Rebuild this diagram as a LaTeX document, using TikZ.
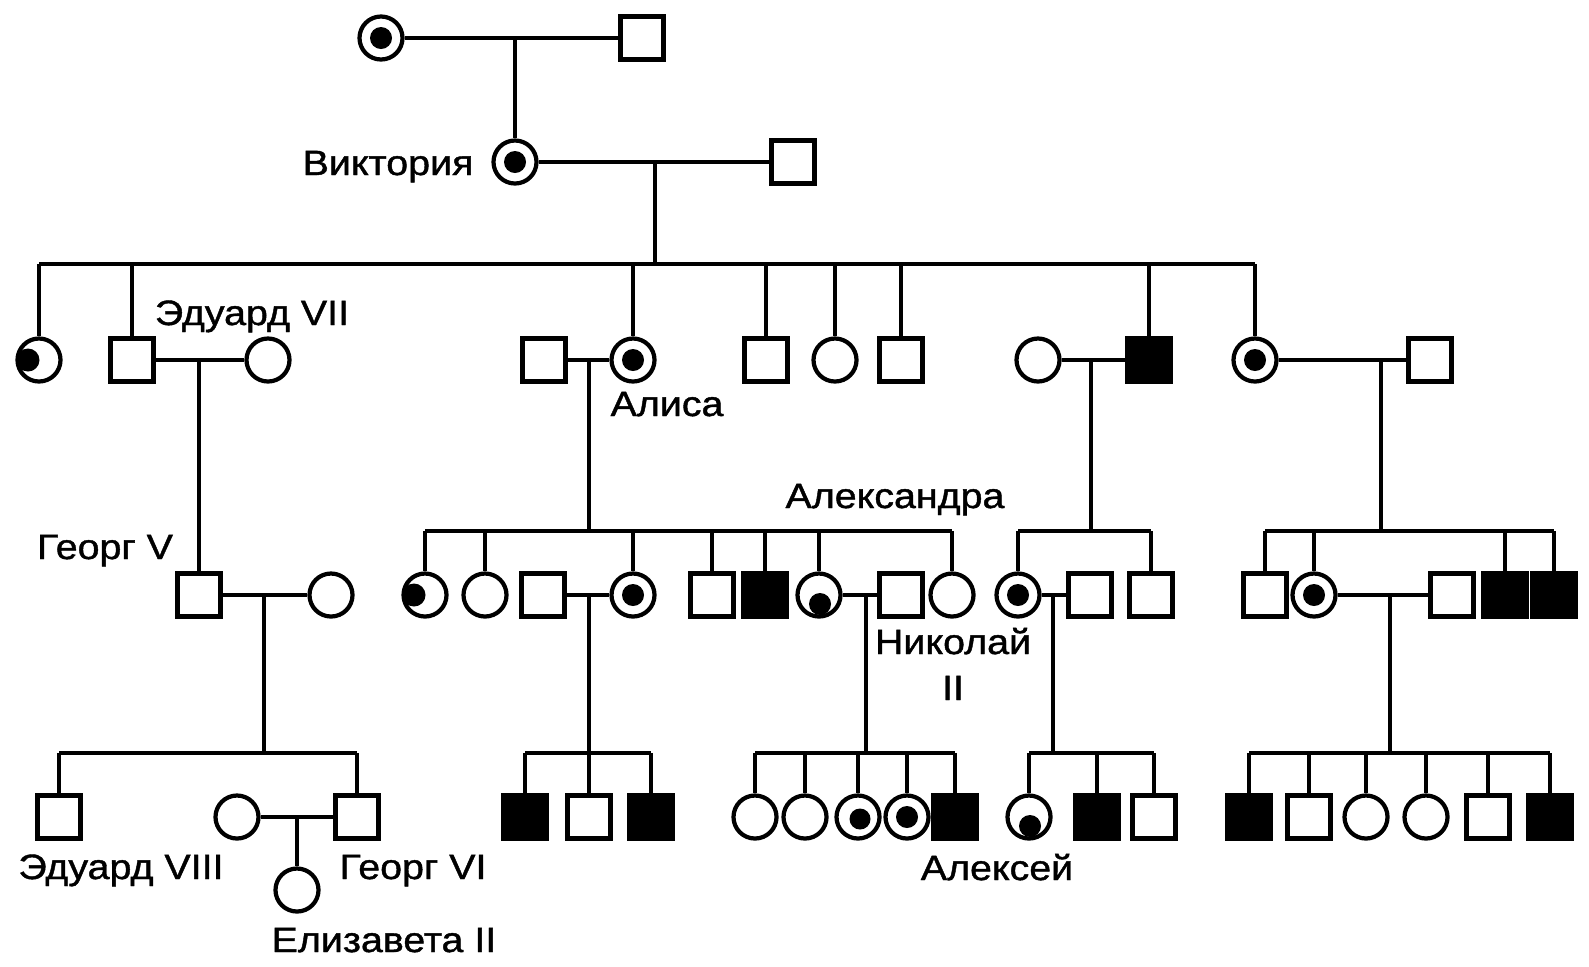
\documentclass[tikz,border=0pt]{standalone}
\usepackage{fontspec}
\setmainfont{Liberation Sans}[FakeStretch=1.12,FakeBold=1.2]
\begin{document}
\begin{tikzpicture}[x=0.01cm,y=-0.01cm,
  sym/.style={draw,line width=1.2pt,inner sep=0pt,minimum size=0.43cm,fill=white},
  mal/.style={sym,rectangle},
  malA/.style={sym,rectangle,fill=black},
  fem/.style={sym,circle},
  carC/.style={fem,path picture={\fill[black] (path picture bounding box.center) circle (0.11cm);}},
  carL/.style={fem,path picture={\fill[black] ([xshift=-0.11cm]path picture bounding box.center) circle (0.115cm);}},
  carD/.style={fem,path picture={\fill[black] ([xshift=0.01cm,yshift=-0.09cm]path picture bounding box.center) circle (0.11cm);}},
  card/.style={fem,path picture={\fill[black] ([xshift=0.02cm,yshift=-0.02cm]path picture bounding box.center) circle (0.105cm);}},
  lbl/.style={font=\fontsize{10pt}{12pt}\selectfont,inner sep=0pt,anchor=base},
  ln/.style={line width=1.05pt}]
\useasboundingbox (0,0) rectangle (1589,966);
\fill[white] (0,0) rectangle (1589,966);

% generation 0
\node[carC] (gf) at (381,38) {};
\node[mal] (gm) at (642,38) {};
\draw[ln] (gf) -- (gm);
\coordinate (j0) at (515,38);

% generation 1
\node[carC] (vic) at (515,162) {};
\node[mal] (vicm) at (793,162) {};
\draw[ln] (j0) -- (vic);
\draw[ln] (vic) -- (vicm);
\coordinate (j1) at (655,162);
\coordinate (s1) at (655,264);
\draw[ln] (j1) -- (s1);

% generation 2
\node[carL] (k1) at (39,360) {};
\node[mal] (ed7) at (132,360) {};
\node[fem] (ed7w) at (268,360) {};
\node[mal] (alim) at (544,360) {};
\node[carC] (ali) at (633,360) {};
\node[mal] (k4) at (766,360) {};
\node[fem] (k5) at (835,360) {};
\node[mal] (k6) at (901,360) {};
\node[fem] (leow) at (1038,360) {};
\node[malA] (leo) at (1149,360) {};
\node[carC] (bea) at (1255,360) {};
\node[mal] (beam) at (1430,360) {};
\draw[ln] (k1.north |- s1) -- (bea.north |- s1);
\foreach \n in {k1,ed7,ali,k4,k5,k6,leo,bea} \draw[ln] (\n.north |- s1) -- (\n.north);
\draw[ln] (ed7) -- (ed7w);
\draw[ln] (alim) -- (ali);
\draw[ln] (leow) -- (leo);
\draw[ln] (bea) -- (beam);
\coordinate (j2a) at (199,360);
\coordinate (j2b) at (589,360);
\coordinate (s2a) at (589,531);
\coordinate (j2c) at (1091,360);
\coordinate (s2b) at (1091,531);
\coordinate (j2d) at (1381,360);
\coordinate (s2c) at (1381,531);
\draw[ln] (j2b) -- (s2a);
\draw[ln] (j2c) -- (s2b);
\draw[ln] (j2d) -- (s2c);

% generation 3
\node[mal] (geo5) at (199,595) {};
\node[fem] (geo5w) at (331,595) {};
\draw[ln] (j2a) -- (geo5);
\draw[ln] (geo5) -- (geo5w);
\coordinate (j3a) at (264,595);
\coordinate (s3a) at (264,753);
\draw[ln] (j3a) -- (s3a);

\node[carL] (a1) at (425,595) {};
\node[fem] (a2) at (485,595) {};
\node[mal] (irm) at (543,595) {};
\node[carC] (ire) at (633,595) {};
\node[mal] (a4) at (712,595) {};
\node[malA] (a5) at (765,595) {};
\node[carD] (alx) at (819,595) {};
\node[mal] (nik) at (901,595) {};
\node[fem] (a7) at (952,595) {};
\draw[ln] (a1.north |- s2a) -- (a7.north |- s2a);
\foreach \n in {a1,a2,ire,a4,a5,alx,a7} \draw[ln] (\n.north |- s2a) -- (\n.north);
\draw[ln] (irm) -- (ire);
\draw[ln] (alx) -- (nik);
\coordinate (j3b) at (589,595);
\coordinate (s3b) at (589,753);
\coordinate (j3c) at (866,595);
\coordinate (s3c) at (866,753);
\draw[ln] (j3b) -- (s3b);
\draw[ln] (j3c) -- (s3c);

\node[carC] (l1) at (1018,595) {};
\node[mal] (l1m) at (1090,595) {};
\node[mal] (l2) at (1151,595) {};
\draw[ln] (l1.north |- s2b) -- (l2.north |- s2b);
\foreach \n in {l1,l2} \draw[ln] (\n.north |- s2b) -- (\n.north);
\draw[ln] (l1) -- (l1m);
\coordinate (j3d) at (1053,595);
\coordinate (s3d) at (1053,753);
\draw[ln] (j3d) -- (s3d);

\node[mal] (b1) at (1265,595) {};
\node[carC] (b2) at (1314,595) {};
\node[mal] (b2m) at (1452,595) {};
\node[malA] (b3) at (1505,595) {};
\node[malA] (b4) at (1554,595) {};
\draw[ln] (b1.north |- s2c) -- (b4.north |- s2c);
\foreach \n in {b1,b2,b3,b4} \draw[ln] (\n.north |- s2c) -- (\n.north);
\draw[ln] (b2) -- (b2m);
\coordinate (j3e) at (1390,595);
\coordinate (s3e) at (1390,753);
\draw[ln] (j3e) -- (s3e);

% generation 4
\node[mal] (ed8) at (59,817) {};
\node[fem] (g6w) at (237,817) {};
\node[mal] (g6) at (357,817) {};
\draw[ln] (ed8.north |- s3a) -- (g6.north |- s3a);
\foreach \n in {ed8,g6} \draw[ln] (\n.north |- s3a) -- (\n.north);
\draw[ln] (g6w) -- (g6);
\coordinate (j4a) at (297,817);
\node[fem] (eliz) at (297,890) {};
\draw[ln] (j4a) -- (eliz);

\node[malA] (i1) at (525,817) {};
\node[mal] (i2) at (589,817) {};
\node[malA] (i3) at (651,817) {};
\draw[ln] (i1.north |- s3b) -- (i3.north |- s3b);
\foreach \n in {i1,i2,i3} \draw[ln] (\n.north |- s3b) -- (\n.north);

\node[fem] (n1) at (755,817) {};
\node[fem] (n2) at (805,817) {};
\node[card] (n3) at (858,817) {};
\node[carC] (n4) at (907,817) {};
\node[malA] (alexei) at (955,817) {};
\draw[ln] (n1.north |- s3c) -- (alexei.north |- s3c);
\foreach \n in {n1,n2,n3,n4,alexei} \draw[ln] (\n.north |- s3c) -- (\n.north);

\node[carD] (lg1) at (1029,817) {};
\node[malA] (lg2) at (1097,817) {};
\node[mal] (lg3) at (1154,817) {};
\draw[ln] (lg1.north |- s3d) -- (lg3.north |- s3d);
\foreach \n in {lg1,lg2,lg3} \draw[ln] (\n.north |- s3d) -- (\n.north);

\node[malA] (q1) at (1249,817) {};
\node[mal] (q2) at (1309,817) {};
\node[fem] (q3) at (1366,817) {};
\node[fem] (q4) at (1426,817) {};
\node[mal] (q5) at (1488,817) {};
\node[malA] (q6) at (1550,817) {};
\draw[ln] (q1.north |- s3e) -- (q6.north |- s3e);
\foreach \n in {q1,q2,q3,q4,q5,q6} \draw[ln] (\n.north |- s3e) -- (\n.north);

% labels
\node[lbl] (tvic) at (388,175) {Виктория};
\node[lbl] (ted7) at (252,325) {Эдуард VII};
\node[lbl] (tali) at (667,416) {Алиса};
\node[lbl] (talx) at (895,508) {Александра};
\node[lbl] (tgeo5) at (105,559) {Георг V};
\node[lbl] (tnik) at (953,654) {Николай};
\node[lbl] (tnik2) at (953,700) {II};
\node[lbl] (ted8) at (121,879) {Эдуард VIII};
\node[lbl] (tg6) at (413,879) {Георг VI};
\node[lbl] (teliz) at (384,952) {Елизавета II};
\node[lbl] (talexei) at (997,880) {Алексей};
\end{tikzpicture}
\end{document}
